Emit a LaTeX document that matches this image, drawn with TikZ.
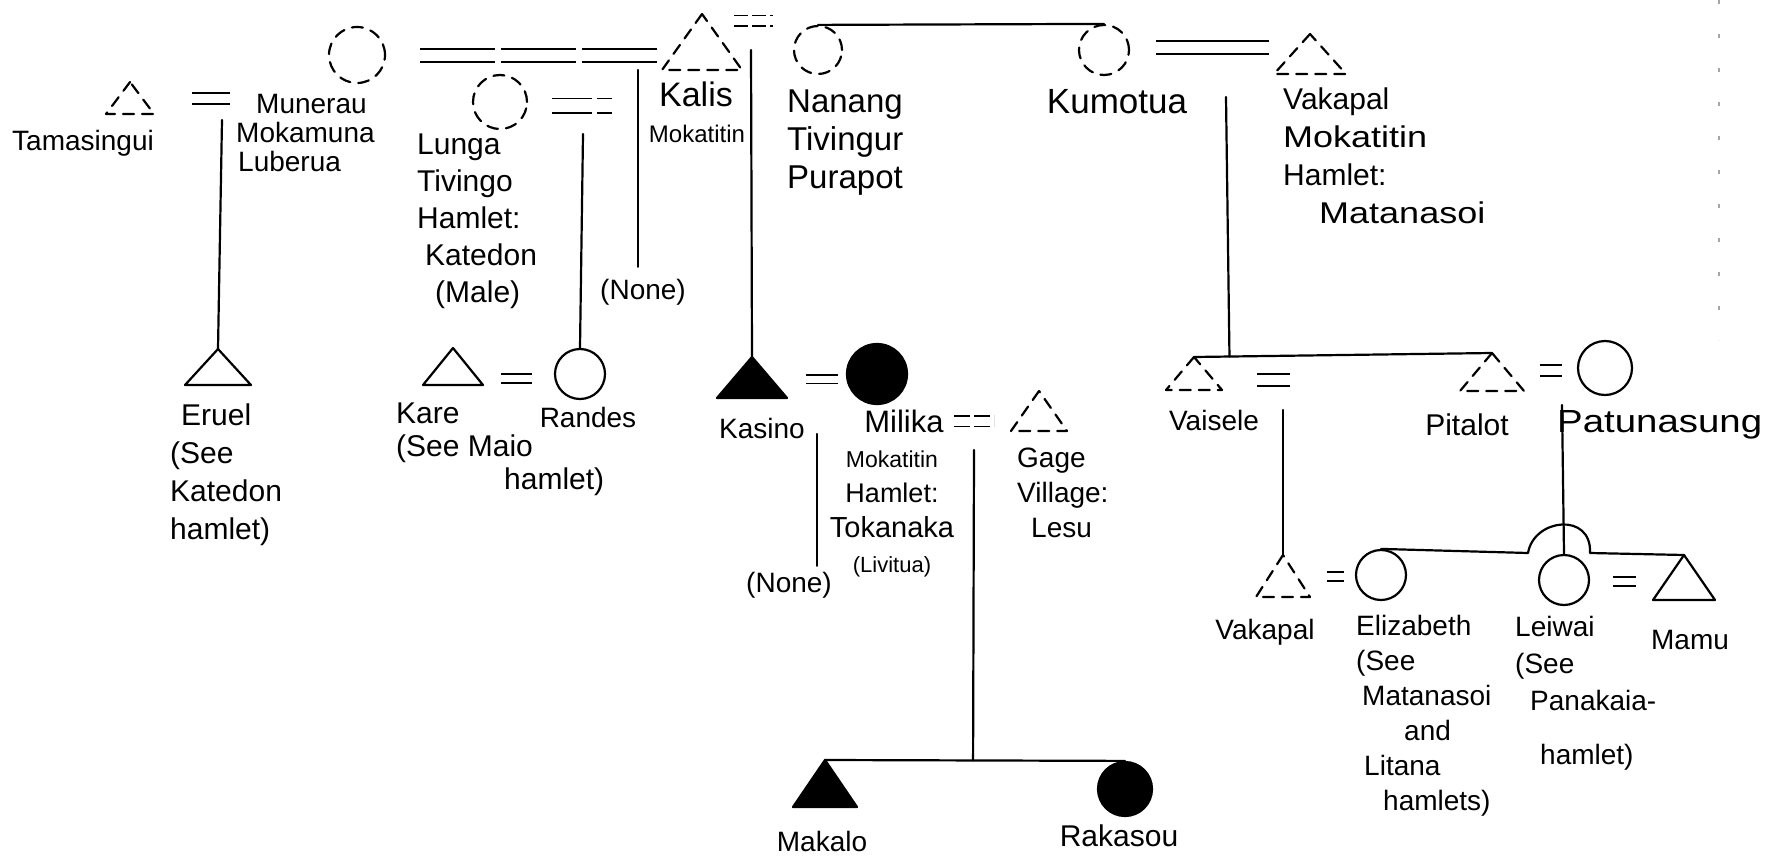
\documentclass[tikz,border=0pt]{standalone}
\usepackage{fontspec}
\usepackage{graphicx}
\setmainfont{Liberation Sans}
\usetikzlibrary{calc}
\tikzset{
  ln/.style={line width=2.2pt, line cap=round, line join=round},
  dsh/.style={dash pattern=on 11pt off 8pt},
  fem/.style={circle, draw, ln, minimum size=50pt, inner sep=0pt},
  lbl/.style={inner sep=0pt, font=\fontsize{28}{36}\selectfont, align=left},
  marr/.style={line cap=butt, double, double distance=8pt, line width=2pt},
  longdsh/.style={dash pattern=on 75pt off 6pt},
}
\newcommand\persontri[6][]{%
  \coordinate (#2) at (#3,#4);
  \draw[ln,#1] (#2) -- ++(-#5,#6) -- ++(2*#5,0) -- cycle;}
\newcommand\widen[1]{\scalebox{1.2}[1]{#1}}
\begin{document}
\begin{tikzpicture}[x=1pt,y=-1pt]
\useasboundingbox[fill=white] (0,0) rectangle (1775,864);

% ---------- first generation ----------
\persontri[dsh]{tamasingui}{130}{82}{24}{32}
\node[lbl,anchor=west] (tamasinguiL) at (12,143) {Tamasingui};
\node[fem,dsh,minimum size=56pt] (munerau) at (357,55) {};
\node[lbl,anchor=north west,font=\fontsize{28}{29}\selectfont] (munerauL) at (236,94) {\hspace*{20pt}Munerau\\Mokamuna\\\hspace*{2pt}Luberua};

\persontri[dsh]{kalis}{702}{14}{40}{56}
\node[lbl,font=\fontsize{34}{40}\selectfont] (kalisL) at (696,94) {Kalis};
\node[lbl,font=\fontsize{24}{28}\selectfont] (kalisM) at (697,134) {Mokatitin};

\node[fem,dsh,minimum size=54pt] (lunga) at (500,102) {};
\node[lbl,anchor=north west,font=\fontsize{30}{37}\selectfont] (lungaL) at (417,134) {Lunga\\Tivingo\\Hamlet:\\\hspace*{8pt}Katedon\\\hspace*{18pt}(Male)};

\node[fem,dsh,minimum size=48pt] (nanang) at (818,50) {};
\node[lbl,anchor=north west,font=\fontsize{33}{38}\selectfont] (nanangL) at (787,90) {Nanang\\Tivingur\\Purapot};

\node[fem,dsh] (kumotua) at (1104,50) {};
\node[lbl,font=\fontsize{35}{40}\selectfont] (kumotuaL) at (1117,102) {Kumotua};

\persontri[dsh]{vakapalA}{1310}{34}{36}{40}
\node[lbl,anchor=north west,font=\fontsize{30}{38}\selectfont] (vakapalAL) at (1283,88) {Vakapal\\\widen{Mokatitin}\\Hamlet:\\\hspace*{36pt}\widen{Matanasoi}};

% marriages
\draw[marr,double distance=9pt] ($(tamasingui)+(62,17)$) -- ++(38,0);
\draw[marr,longdsh,double distance=11pt] ($(munerau.east)+(34,1)$) -- ($(kalis)+(-42,42)$);
\draw[marr,dash pattern=on 40pt off 5pt,double distance=13pt,line width=1.6pt] ($(lunga.east)+(24,4)$) -- ++(60,0);
\draw[marr,dash pattern=on 14pt off 4pt,double distance=9pt,line width=1.6pt] ($(kalis)+(32,7)$) -- ++(39,0);
\draw[marr,double distance=11pt] ($(kumotua.east)+(26,-2)$) -- ++(113,0);

% descent lines (first generation)
\coordinate (mdesc) at (222,120);
\coordinate (noneA) at (638,70);
\node[lbl] (noneAL) at (643,292) {(None)};
\draw[ln,shorten >=12pt] (noneA) -- (noneA |- noneAL.north);
\coordinate (ldesc) at (583,134);
\coordinate (kndesc) at (751,50);
\draw[ln] (nanang.north) -- (kumotua.north);
\coordinate (kvdesc) at (1226,97);

% ---------- second generation ----------
\persontri{eruel}{218}{349}{33}{36}
\draw[ln] (mdesc) -- (eruel);
\node[lbl,anchor=north west,font=\fontsize{30}{38}\selectfont] (eruelL) at (170,404) {\hspace*{11pt}Eruel\\(See\\Katedon\\hamlet)};

\persontri{kare}{453}{348}{30}{37}
\node[fem,minimum size=50pt] (randes) at (580,374) {};
\draw[marr,double distance=7pt] ($(kare)+(48,30)$) -- ++(31,0);
\draw[ln] (ldesc) -- (randes.north);
\node[lbl,anchor=north west,font=\fontsize{30}{33}\selectfont] (kareL) at (396,403) {Kare\\(See Maio\\\hspace*{108pt}hamlet)};
\node[lbl] (randesL) at (588,417) {Randes};

\persontri[fill=black]{kasino}{752}{357}{35}{41}
\draw[ln] (kndesc) -- (kasino);
\node[lbl] (kasinoL) at (762,428) {Kasino};
\node[fem,fill=black,minimum width=60pt,minimum height=52pt] (milika) at (877,374) {};
\draw[marr,double distance=7pt,line width=1.6pt] ($(kasino)+(54,22)$) -- ++(32,0);
\coordinate (kmdesc) at (817,434);
\node[lbl] (noneBL) at (789,585) {(None)};
\draw[ln,shorten >=6pt] (kmdesc) -- (kmdesc |- noneBL.north);
\node[lbl,anchor=north,align=center,font=\fontsize{27}{35}\selectfont] (milikaL) at (892,410)
  {\hspace*{24pt}{\fontsize{31}{35}\selectfont Milika}\\{\fontsize{23}{35}\selectfont Mokatitin}\\Hamlet:\\{\fontsize{29}{32}\selectfont Tokanaka}\\{\fontsize{22}{26}\selectfont (Livitua)}};

\persontri[dsh]{gage}{1039}{391}{28}{40}
\draw[marr,dash pattern=on 16pt off 4pt,double distance=9pt,line width=1.6pt] ($(milika)+(77,47)$) -- ++(40,0);
\node[lbl,anchor=north west,font=\fontsize{28}{35}\selectfont] (gageL) at (1017,448) {Gage\\Village:\\\hspace*{14pt}Lesu};

\persontri[dsh]{vaisele}{1194}{357}{28}{33}
\persontri[dsh]{pitalot}{1492}{353}{32}{38}
\draw[ln] (vaisele) -- (pitalot);
\draw[ln] (kvdesc) -- ($(vaisele)!(kvdesc)!(pitalot)$);
\draw[marr,double distance=10pt] ($(vaisele)+(63,23)$) -- ++(33,0);
\node[lbl] (vaiseleL) at (1214,420) {Vaisele};
\node[fem,minimum width=48pt,minimum height=54pt] (patunasung) at (1605,368) {};
\draw[marr,double distance=9pt] ($(pitalot)+(48,17)$) -- ++(22,0);
\node[lbl,font=\fontsize{30}{36}\selectfont] (pitalotL) at (1467,425) {Pitalot};
\node[lbl,anchor=west,font=\fontsize{32}{36}\selectfont] (patunasungL) at (1557,425) {\widen{Patunasung}};

% ---------- third generation ----------
\coordinate (mgdesc) at (974,450);
\persontri[fill=black]{makalo}{825}{760}{32}{47}
\node[fem,fill=black,minimum size=54pt] (rakasou) at (1125,789) {};
\draw[ln] (makalo) -- (rakasou.north);
\draw[ln] (mgdesc) -- ($(makalo)!(mgdesc)!(rakasou.north)$);
\node[lbl] (makaloL) at (822,841) {Makalo};
\node[lbl,font=\fontsize{30}{36}\selectfont] (rakasouL) at (1119,836) {Rakasou};

\coordinate (vdesc) at (1283,410);
\persontri[dsh]{vakapalB}{1283}{555}{27}{42}
\draw[ln] (vdesc) -- (vakapalB);
\node[fem] (elizabeth) at (1381,575) {};
\draw[marr,double distance=7pt] ($(vakapalB)+(44,21)$) -- ++(17,0);
\coordinate (pdesc) at (1562,405);
\node[fem] (leiwai) at (1564,580) {};
\draw[ln] (pdesc) -- (leiwai.north);
\persontri{mamu}{1684}{555}{31}{45}
\draw[marr,double distance=7pt] ($(leiwai)+(49,1)$) -- ++(23,0);
\coordinate (humpL) at (1528,553);
\coordinate (humpR) at (1590,553);
\draw[ln] (elizabeth.north) -- (humpL) .. controls (1534,518) and (1592,512) .. (humpR) -- (mamu);

\node[lbl] (vakapalBL) at (1265,632) {Vakapal};
\node[lbl,anchor=north west,font=\fontsize{28}{35}\selectfont] (elizabethL) at (1356,615)
  {Elizabeth\\(See\\\hspace*{6pt}Matanasoi\\\hspace*{48pt}and\\\hspace*{8pt}Litana\\\hspace*{27pt}hamlets)};
\node[lbl,anchor=north west,font=\fontsize{28}{37}\selectfont] (leiwaiL) at (1515,616)
  {Leiwai\\(See\\\hspace*{15pt}Panakaia-\\[17pt]\hspace*{25pt}hamlet)};
\node[lbl] (mamuL) at (1690,640) {Mamu};

% faint scan line at right edge
\coordinate (edgeT) at (1719,0);
\coordinate (edgeB) at (1719,340);
\draw[gray!70,line width=1.2pt,dash pattern=on 4pt off 30pt] (edgeT) -- (edgeB);
\end{tikzpicture}
\end{document}
